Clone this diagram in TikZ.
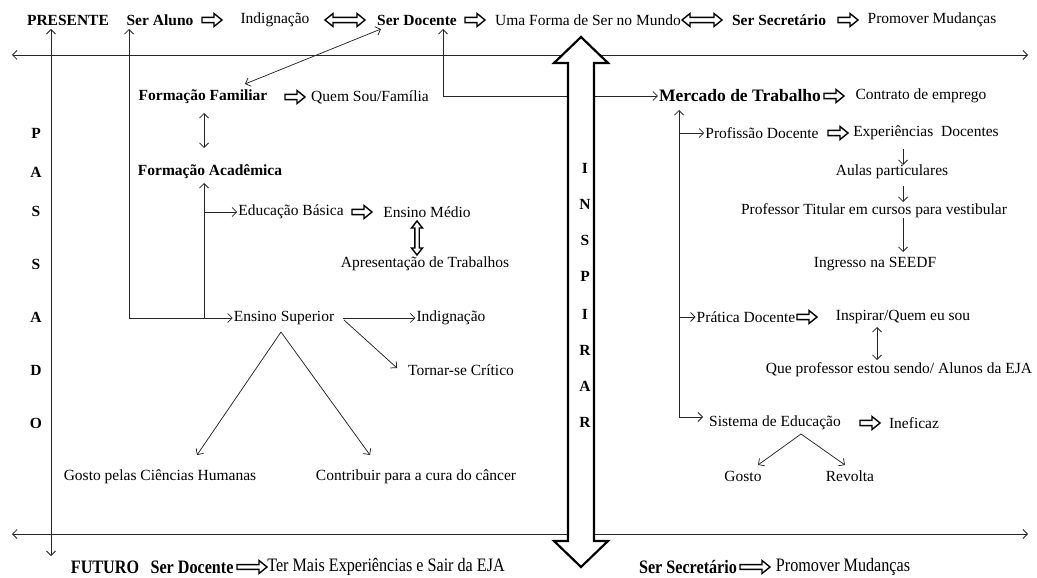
\documentclass[tikz,border=0pt]{standalone}
\usepackage{fontspec}
\setmainfont{Liberation Serif}
\newfontfamily\condf[FakeStretch=0.85]{Liberation Serif}
\usetikzlibrary{arrows.meta}
\begin{document}
\begin{tikzpicture}[x=1pt,y=-1pt,
  txt/.style={font=\fontsize{15.5}{18}\selectfont, inner sep=1pt},
  bld/.style={font=\fontsize{15.5}{18}\selectfont\bfseries, inner sep=1pt},
  big/.style={font=\fontsize{17.5}{20}\selectfont\bfseries, inner sep=1pt},
  ltr/.style={font=\fontsize{15.5}{18}\selectfont\bfseries, inner sep=0pt},
  ctxt/.style={font=\fontsize{19}{22}\condf, inner sep=1pt},
  cbld/.style={font=\fontsize{19}{22}\condf\bfseries, inner sep=1pt},
  ln/.style={line width=0.75pt, draw=black!85, >={Straight Barb[length=4.5pt,width=9pt]}},
  blk/.style={line width=1.4pt, line join=miter, draw=black, fill=white},
  rarr/.pic={\path[blk] (-10,-2.6) -- (2,-2.6) -- (2,-6.5) -- (10,0) -- (2,6.5) -- (2,2.6) -- (-10,2.6) -- cycle;},
  rarrL/.pic={\path[blk] (-15,-2.4) -- (7,-2.4) -- (7,-6.5) -- (15,0) -- (7,6.5) -- (7,2.4) -- (-15,2.4) -- cycle;},
  darr/.pic={\path[blk] (-20,0) -- (-12,-6.5) -- (-12,-2.6) -- (12,-2.6) -- (12,-6.5) -- (20,0) -- (12,6.5) -- (12,2.6) -- (-12,2.6) -- (-12,6.5) -- cycle;},
  varr/.pic={\path[blk] (0,-17) -- (5.5,-10) -- (2.2,-10) -- (2.2,10) -- (5.5,10) -- (0,17) -- (-5.5,10) -- (-2.2,10) -- (-2.2,-10) -- (-5.5,-10) -- cycle;}
]
\useasboundingbox (0,0) rectangle (1037,578);
\fill[white] (0,0) rectangle (1037,578);

% ---- top row
\node[bld] (pres) at (68,20) {PRESENTE};
\node[bld] (sal) at (160,20) {Ser Aluno};
\pic at (212,20) {rarr};
\node[txt] (ind1) at (275,20) {Indignação};
\pic at (345,20) {darr};
\node[bld] (sdoc) at (417,20) {Ser Docente};
\pic at (475,20) {rarr};
\node[txt] (uma) at (588,20) {Uma Forma de Ser no Mundo};
\pic at (702,20) {darr};
\node[bld] (ssec) at (779,20) {Ser Secretário};
\pic at (848,20) {rarr};
\node[txt] (prom) at (932,20) {Promover Mudanças};

% ---- axes
\coordinate (axL) at (12,55); \coordinate (axR) at (1028,55);
\coordinate (bxL) at (12,534); \coordinate (bxR) at (1028,534);
\draw[ln,<->] (axL) -- (axR);
\draw[ln,<->] (bxL) -- (bxR);
\coordinate (vT) at (51,29); \coordinate (vB) at (51,556);
\draw[ln,<->] (vT) -- (vB);

% ---- PASSADO
\foreach \l/\y [count=\i] in {P/133,A/172,S/211,S/264,A/317,D/370,O/423}
  \node[ltr] (pas\i) at (36,\y) {\l};

% ---- left side
\node[bld] (ffam) at (203,97) {Formação Familiar};
\pic at (295,97) {rarr};
\node[txt] (quem) at (370,97) {Quem Sou/Família};
\node[bld] (facad) at (210,172) {Formação Acadêmica};
\node[txt] (edb) at (291,212) {Educação Básica};
\pic at (362,212) {rarr};
\node[txt] (emed) at (427,212) {Ensino Médio};
\pic at (417,238) {varr};
\node[txt] (apres) at (425,264) {Apresentação de Trabalhos};
\node[txt] (ensup) at (284,318) {Ensino Superior};
\node[txt] (ind2) at (451,318) {Indignação};
\node[txt] (torn) at (461,370) {Tornar-se Crítico};
\node[txt] (gost1) at (160,477) {Gosto pelas Ciências Humanas};
\node[txt] (contr) at (416,477) {Contribuir para a cura do câncer};

\coordinate (saT) at (129,29);
\draw[ln,<->] (saT) |- (ensup.west);
\coordinate (sdT) at (443,29);
\coordinate (sdT2) at (381,29);
\coordinate (ffT) at (245,84);
\draw[ln,<->] (sdT2) -- (ffT);
\coordinate (ff1) at (204,113); \coordinate (ff2) at (204,148);
\draw[ln,<->] (ff1) -- (ff2);
\coordinate (faB) at (204,318); \coordinate (faT) at (204,183);
\draw[ln,->] (faB) -- (faT);
\coordinate (eb0) at (204,212);
\draw[ln,->] (eb0) -- (edb.west);
\coordinate (es1) at (343,318); \coordinate (es2) at (344,320); \coordinate (es3) at (397,368);
\draw[ln,->] (es1) -- (ind2.west);
\draw[ln,->] (es2) -- (es3);
\coordinate (esA) at (281,332);
\coordinate (g1) at (197,455); \coordinate (c1) at (370,455);
\draw[ln,->] (esA) -- (g1);
\draw[ln,->] (esA) -- (c1);

% ---- right side
\node[big] (merc) at (740,96) {Mercado de Trabalho};
\pic at (834,96) {rarr};
\node[txt] (contrato) at (921,96) {Contrato de emprego};
\draw[ln,<->] (sdT) |- (merc.west);

\node[txt] (prof) at (762,133) {Profissão Docente};
\pic at (838,133) {rarr};
\node[txt] (exp) at (926,133) {Experiências~~Docentes};
\node[txt] (aulas) at (892,172) {Aulas particulares};
\node[txt] (profT) at (874,211) {Professor Titular em cursos para vestibular};
\node[txt] (ingr) at (875,264) {Ingresso na SEEDF};
\node[txt] (prat) at (746,317) {Prática Docente};
\pic at (807,317) {rarr};
\node[txt] (insp) at (903,317) {Inspirar/Quem eu sou};
\node[txt] (quep) at (899,370) {Que professor estou sendo/ Alunos da EJA};
\node[txt] (sist) at (775,423) {Sistema de Educação};
\pic at (870,423) {rarr};
\node[txt] (inef) at (914,423) {Ineficaz};
\node[txt] (gost2) at (743,476) {Gosto};
\node[txt] (revo) at (850,476) {Revolta};

\coordinate (rB) at (679,417); \coordinate (rT) at (679,110);
\draw[ln,->] (rB) -- (rT);
\coordinate (r1) at (679,133); \coordinate (r2) at (679,317);
\draw[ln,->] (r1) -- (prof.west);
\draw[ln,->] (r2) -- (prat.west);
\coordinate (r3e) at (703,417);
\draw[ln,->] (rB) -- (r3e);
\coordinate (d1a) at (903,149); \coordinate (d1b) at (903,165);
\coordinate (d2a) at (903,186); \coordinate (d2b) at (903,202);
\coordinate (d3a) at (903,218); \coordinate (d3b) at (903,252);
\draw[ln,->] (d1a) -- (d1b);
\draw[ln,->] (d2a) -- (d2b);
\draw[ln,->] (d3a) -- (d3b);
\coordinate (u1) at (877,327); \coordinate (u2) at (877,360);
\draw[ln,<->] (u1) -- (u2);
\coordinate (sA) at (801,434); \coordinate (sg) at (758,465); \coordinate (sr) at (845,465);
\draw[ln,->] (sA) -- (sg);
\draw[ln,->] (sA) -- (sr);

% ---- big INSPIRAR arrow
\path[draw=black, line width=2.2pt, fill=white, line join=miter]
  (581,37) -- (608,63) -- (594,63) -- (594,541) -- (608,541) -- (581,567)
  -- (554,541) -- (568,541) -- (568,63) -- (554,63) -- cycle;
\foreach \l/\y [count=\i] in {I/168,N/204,S/240,P/276,I/314,R/350,A/386,R/422}
  \node[ltr] (ins\i) at (585,\y) {\l};

% ---- bottom row
\node[cbld] (fut) at (105,567) {FUTURO};
\node[cbld] (sdoc2) at (192,567) {Ser Docente};
\pic at (252,567) {rarrL};
\node[ctxt] (ter) at (386,567) {Ter Mais Experiências e Sair da EJA};
\node[cbld] (ssec2) at (688,567) {Ser Secretário};
\pic at (755,567) {rarrL};
\node[ctxt] (prom2) at (843,567) {Promover Mudanças};
\end{tikzpicture}
\end{document}
